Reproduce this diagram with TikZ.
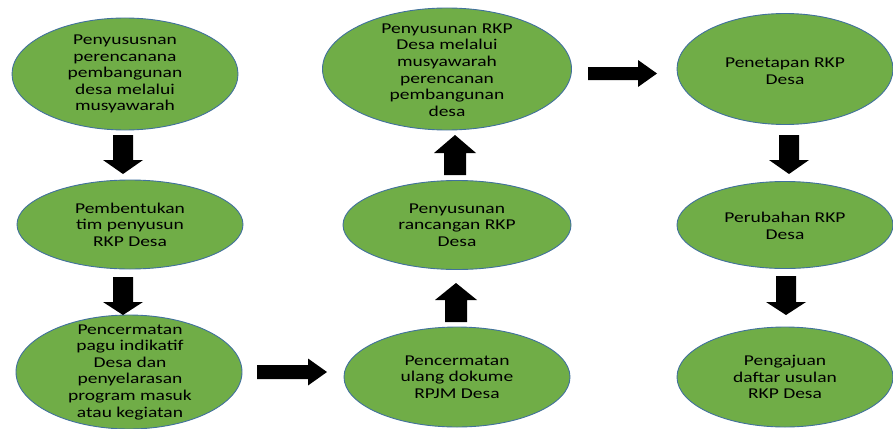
\documentclass[tikz,border=0pt]{standalone}
\usepackage{fontspec}
\setmainfont{Carlito}[FakeStretch=1.3]
\usetikzlibrary{shapes.geometric}
\definecolor{ellfill}{HTML}{70AD47}
\definecolor{elldraw}{HTML}{41719C}
\tikzset{
  ell/.style={ellipse, draw=elldraw, fill=ellfill, line width=0.9pt, inner sep=0pt},
  txt/.style={align=center, inner sep=0pt, text=black, font=\fontsize{15}{16.6}\selectfont},
  blk/.style={fill=black}
}
% vertical block arrow: x, tail y, tip y, half shaft, half head, head base y
\newcommand\blkv[6]{\fill[blk] (#1-#4,#2) -- (#1+#4,#2) -- (#1+#4,#6) -- (#1+#5,#6) -- (#1,#3) -- (#1-#5,#6) -- (#1-#4,#6) -- cycle;}
% horizontal block arrow: y, tail x, tip x, half shaft, half head, head base x
\newcommand\blkh[6]{\fill[blk] (#2,#1-#4) -- (#6,#1-#4) -- (#6,#1-#5) -- (#3,#1) -- (#6,#1+#5) -- (#6,#1+#4) -- (#2,#1+#4) -- cycle;}
\begin{document}
\begin{tikzpicture}[x=1pt,y=-1pt]
\fill[white] (0,0) rectangle (893,428);
\useasboundingbox (0,0) rectangle (893,428);

% left column
\node[ell, minimum width=226pt, minimum height=112pt] (n1) at (125,74) {};
\node[txt] (n1t) at (n1.center) {Penyususnan\\perencanana\\pembangunan\\desa melalui\\musyawarah};
\node[ell, minimum width=226pt, minimum height=89pt] (n2) at (130,224.5) {};
\node[txt] (n2t) at (n2.center) {Pembentukan\\tim penyusun\\RKP Desa};
\node[ell, minimum width=226pt, minimum height=114pt] (n3) at (129,372) {};
\node[txt] (n3t) at (130,372) {Pencermatan\\pagu indikatif\\Desa dan\\penyelarasan\\program masuk\\atau kegiatan};

% middle column
\node[ell, minimum width=226pt, minimum height=100pt] (n4) at (457,377) {};
\node[txt] (n4t) at (n4.center) {Pencermatan\\ulang dokume\\RPJM Desa};
\node[ell, minimum width=228pt, minimum height=89pt] (n5) at (457,225) {};
\node[txt] (n5t) at (n5.center) {Penyusunan\\rancangan RKP\\Desa};
\node[ell, minimum width=249pt, minimum height=122pt] (n6) at (447,69) {};
\node[txt] (n6t) at (447,70) {Penyusunan RKP\\Desa melalui\\musyawarah\\perencanan\\pembangunan\\desa};

% right column
\node[ell, minimum width=216pt, minimum height=111pt] (n7) at (785,69) {};
\node[txt] (n7t) at (785,71) {Penetapan RKP\\Desa};
\node[ell, minimum width=216pt, minimum height=87pt] (n8) at (785,225) {};
\node[txt] (n8t) at (785,226) {Perubahan RKP\\Desa};
\node[ell, minimum width=216pt, minimum height=100pt] (n9) at (785,377) {};
\node[txt] (n9t) at (n9.center) {Pengajuan\\daftar usulan\\RKP Desa};

% block arrows
\blkv{123}{135}{174}{10}{20}{160}
\blkv{123}{277}{315}{10}{20}{302}
\blkh{372}{257}{327}{7}{13.5}{308}
\blkv{456}{322}{283}{11}{21}{300}
\blkv{455}{175}{135}{11}{21}{153}
\blkh{73.5}{588}{657}{6.5}{13.5}{638}
\blkv{789}{135}{174}{10}{20}{160}
\blkv{786}{276}{315}{10}{20}{302}
\end{tikzpicture}
\end{document}
